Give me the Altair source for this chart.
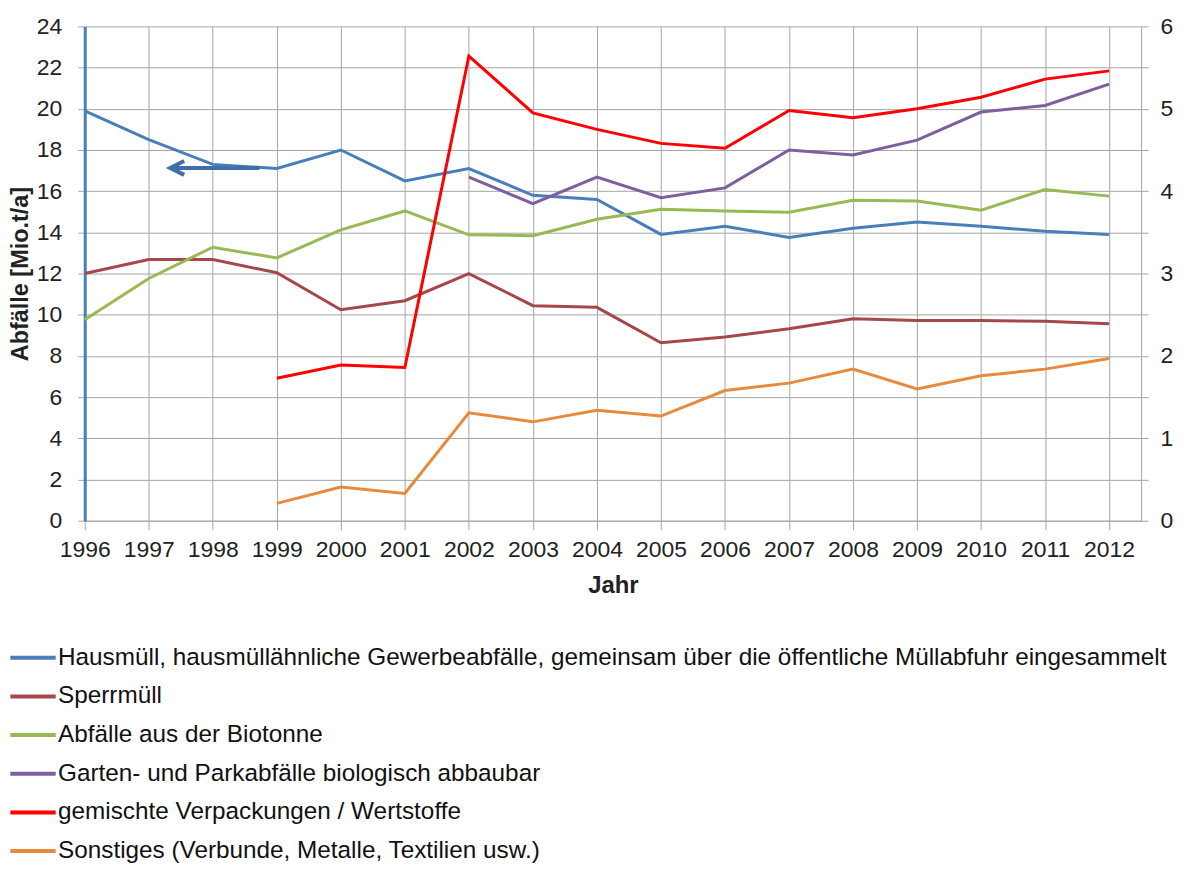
import altair as alt
import pandas as pd

years = list(range(1996, 2013))

series_names = [
    "Hausmüll, hausmüllähnliche Gewerbeabfälle, gemeinsam über die öffentliche Müllabfuhr eingesammelt",
    "Sperrmüll",
    "Abfälle aus der Biotonne",
    "Garten- und Parkabfälle biologisch abbaubar",
    "gemischte Verpackungen / Wertstoffe",
    "Sonstiges (Verbunde, Metalle, Textilien usw.)",
]
series_colors = ["#4A7EBB", "#A5484A", "#98B954", "#7D5FA0", "#FF0000", "#E88A3C"]

# left axis (Mio. t/a, 0-24)
hausmuell = [19.9, 18.5, 17.3, 17.1, 18.0, 16.5, 17.1, 15.8, 15.6, 13.9, 14.3, 13.75, 14.2, 14.5, 14.3, 14.05, 13.9]
# right axis (0-6)
sperrmuell = [3.0, 3.17, 3.17, 3.01, 2.56, 2.67, 3.0, 2.61, 2.59, 2.16, 2.23, 2.33, 2.45, 2.43, 2.43, 2.42, 2.39]
biotonne = [2.44, 2.94, 3.32, 3.19, 3.53, 3.76, 3.47, 3.46, 3.66, 3.78, 3.76, 3.745, 3.89, 3.88, 3.77, 4.02, 3.94]
garten = [None] * 6 + [4.17, 3.85, 4.17, 3.92, 4.04, 4.50, 4.44, 4.62, 4.96, 5.04, 5.30]
verpackungen = [None] * 3 + [1.73, 1.89, 1.86, 5.64, 4.95, 4.75, 4.58, 4.52, 4.98, 4.89, 5.0, 5.14, 5.36, 5.46]
sonstiges = [None] * 3 + [0.21, 0.41, 0.33, 1.31, 1.2, 1.34, 1.27, 1.58, 1.67, 1.84, 1.60, 1.76, 1.84, 1.97]

# annotation arrow (pointing to left axis)
arrow_x = [1997.335, 1998.73]
arrow_y = [17.13]

all_series = [hausmuell, sperrmuell, biotonne, garten, verpackungen, sonstiges]
rows = []
for name, vals in zip(series_names, all_series):
    for yr, v in zip(years, vals):
        if v is not None:
            rows.append({"Jahr": yr, "Serie": name, "Wert": v})
df = pd.DataFrame(rows)

arrow_df = pd.DataFrame({"Jahr": [arrow_x[0]], "Jahr2": [arrow_x[1]], "Wert": arrow_y})

GRID = "#A6A6A6"
FONT = "Liberation Sans"
TXT = "#222222"

color = alt.Color(
    "Serie:N",
    sort=series_names,
    scale=alt.Scale(domain=series_names, range=series_colors),
    legend=alt.Legend(
        orient="none", legendX=-65.4, legendY=620, direction="vertical", title=None,
        symbolType="M-2,0L2,0", symbolSize=518, symbolStrokeWidth=4, symbolOffset=0,
        labelFontSize=24.4, labelFont=FONT, labelColor="#111111", labelOffset=11.6,
        rowPadding=13.8, labelLimit=1200,
    ),
)

xaxis = alt.Axis(
    values=years, format="d", grid=True, gridColor=GRID, gridWidth=1,
    domainColor=GRID, tickColor=GRID, tickSize=9, labelFontSize=23, labelFont=FONT,
    labelColor=TXT, labelPadding=9, labelFlush=False, labelOverlap=False,
    title="Jahr", titleFontSize=24, titleFont=FONT, titleFontWeight="bold",
    titleColor=TXT, titlePadding=12,
)
xenc = alt.X("Jahr:Q", scale=alt.Scale(domain=[1996, 2012.5], nice=False, zero=False), axis=xaxis)

ytitle = "Abfälle [Mio.t/a]"
left_axis = alt.Axis(
    values=list(range(0, 25, 2)), grid=True, gridColor=GRID, gridWidth=1,
    domainColor="#4A7EBB", domainWidth=3, tickColor=GRID, tickSize=7,
    labelFontSize=23, labelFont=FONT, labelColor=TXT, labelPadding=16,
    title=ytitle, titleFontSize=23.5, titleFont=FONT, titleFontWeight="bold",
    titleColor=TXT, titlePadding=4,
)
yleft = alt.Y("Wert:Q", scale=alt.Scale(domain=[0, 24], nice=False), axis=left_axis)

left_line = alt.Chart(df).transform_filter(
    alt.datum.Serie == series_names[0]
).mark_line(strokeWidth=3).encode(x=xenc, y=yleft, color=color)

arrow_rule = alt.Chart(arrow_df).mark_rule(strokeWidth=4, color="#3F6FA6").encode(
    x=alt.X("Jahr:Q"), x2="Jahr2:Q", y=alt.Y("Wert:Q")
)
arrow_head = alt.Chart(arrow_df).mark_point(
    shape="M2,-1L0,0L2,1", size=196, filled=False, strokeWidth=4, color="#3F6FA6", opacity=1
).encode(x=alt.X("Jahr:Q"), y=alt.Y("Wert:Q"))

left_layer = alt.layer(left_line, arrow_rule, arrow_head)

right_axis = alt.Axis(
    orient="right", values=[i * 0.5 for i in range(13)],
    labelExpr="datum.value % 1 === 0 ? format(datum.value, 'd') : ''",
    grid=False, domainColor=GRID, tickColor=GRID, tickSize=7,
    labelFontSize=23, labelFont=FONT, labelColor=TXT, labelPadding=12, title=None,
)
right_line = alt.Chart(df).transform_filter(
    alt.datum.Serie != series_names[0]
).mark_line(strokeWidth=3).encode(
    x=xenc,
    y=alt.Y("Wert:Q", scale=alt.Scale(domain=[0, 6], nice=False), axis=right_axis),
    color=color,
)

chart = alt.layer(left_layer, right_line).resolve_scale(y="independent").properties(
    width=1060, height=496,
    autosize=alt.AutoSizeParams(type="none"),
    padding={"left": 77, "top": 17, "right": 35, "bottom": 343},
    background="white",
).configure_view(stroke=None)

chart.save("out.html", embed_options={"renderer": "svg", "actions": False})
